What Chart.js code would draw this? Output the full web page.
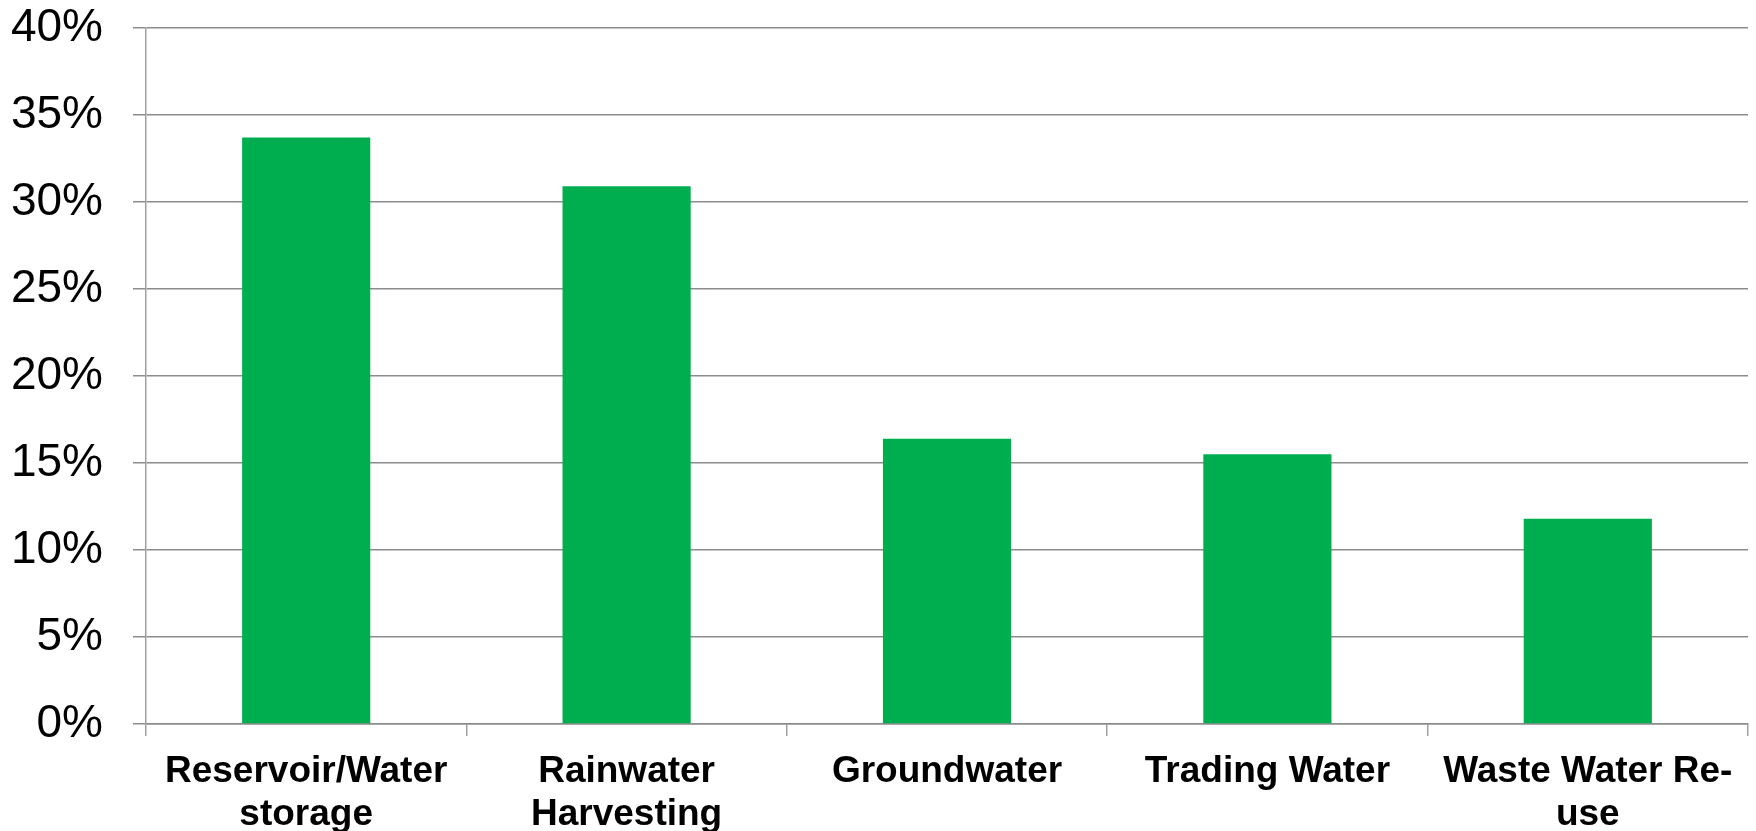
<!DOCTYPE html>
<html>
<head>
<meta charset="utf-8">
<script src="https://cdn.jsdelivr.net/npm/chart.js@4/dist/chart.umd.min.js"></script>
<style>
html,body{margin:0;padding:0;background:#fff;}
#wrap{width:1756px;height:831px;position:relative;}
</style>
</head>
<body>
<div id="wrap"><canvas id="c" width="1756" height="831"></canvas></div>
<script>
const categories = [
  ['Reservoir/Water', 'storage'],
  ['Rainwater', 'Harvesting'],
  'Groundwater',
  'Trading Water',
  ['Waste Water Re-', 'use']
];
const values = [33.7, 30.9, 16.4, 15.5, 11.8];
const yTicks = [0, 5, 10, 15, 20, 25, 30, 35, 40];

const gridColor = '#8c8c8c';

new Chart(document.getElementById('c'), {
  type: 'bar',
  data: {
    labels: categories,
    datasets: [{
      data: values,
      backgroundColor: '#00AE50',
      borderWidth: 0,
      categoryPercentage: 1.0,
      barPercentage: 0.4
    }]
  },
  options: {
    responsive: false,
    animation: false,
    devicePixelRatio: 1,
    layout: { padding: { top: 28, right: 8, left: 0, bottom: 0 } },
    plugins: { legend: { display: false }, tooltip: { enabled: false } },
    scales: {
      x: {
        offset: true,
        grid: {
          offset: true,
          drawOnChartArea: false,
          drawTicks: true,
          tickLength: 12,
          color: '#a0a0a0',
          lineWidth: 1.5
        },
        border: { color: gridColor, width: 1.5 },
        ticks: {
          color: '#000',
          font: { family: 'Liberation Sans, Arial, sans-serif', size: 37, weight: 'bold', lineHeight: 1.15 },
          padding: 15,
          maxRotation: 0,
          autoSkip: false
        },
        afterFit: (s) => { s.height = 107; s.paddingLeft = 0; s.paddingRight = 0; }
      },
      y: {
        min: 0,
        max: 40,
        afterBuildTicks: (s) => { s.ticks = yTicks.map(v => ({ value: v })); },
        grid: {
          color: gridColor,
          lineWidth: 1.5,
          drawTicks: true,
          tickLength: 13
        },
        border: { color: '#a0a0a0', width: 1.5 },
        ticks: {
          color: '#000',
          font: { family: 'Liberation Sans, Arial, sans-serif', size: 46 },
          padding: 30,
          callback: (v) => v + '%'
        },
        afterFit: (s) => { s.width = 146; s.paddingTop = 0; s.paddingBottom = 0; }
      }
    }
  }
});
</script>
</body>
</html>
